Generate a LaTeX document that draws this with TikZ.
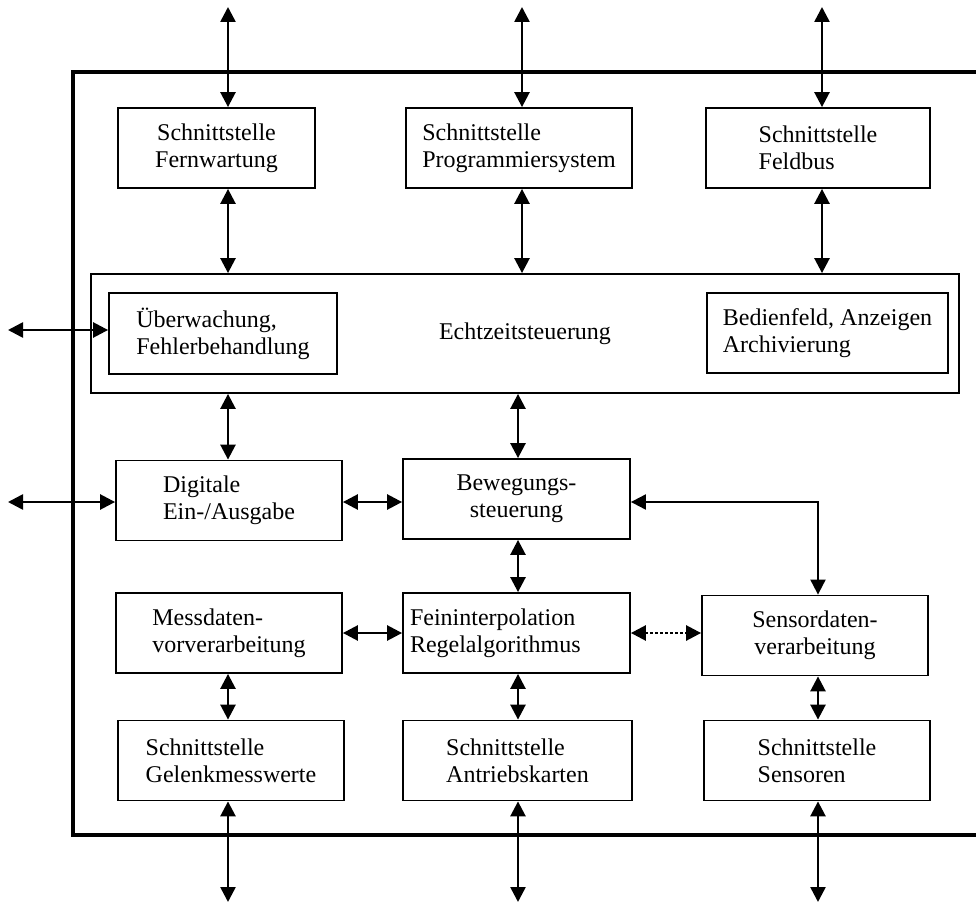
\documentclass[tikz,border=0pt]{standalone}
\usepackage{fontspec}
\setmainfont{Liberation Serif}
\usetikzlibrary{positioning, calc, arrows.meta}

\begin{document}
\begin{tikzpicture}[x = 0.5pt, y = -0.5pt]

\tikzset{
block/.style = {rectangle, draw, line width = 0.9pt, minimum height = 40pt,
	minimum width = 113pt, inner ysep = 0pt, align = left,
	font = \fontsize{12}{13.4}\selectfont},
frame/.style = {line width = 1.8pt},
link/.style = {<->, >={Triangle[length = 7.5pt, width = 7.5pt]}, line width = 1.3pt},
dotlink/.style = {dash pattern = on 1.5pt off 1pt},
	}

\useasboundingbox (0,0) rectangle (976,904);

%% Frame
\draw [frame] (976,72) -- (73,72) -- (73,835) -- (976,835);

%% Blocks
% Interfaces on top
\node at (216.5,148) [block, minimum width = 98.5pt, align = center] (fern) {Schnittstelle\\Fernwartung};
\node at (519,148) [block] (prog) {Schnittstelle\\Programmiersystem};
\node at (818,148) [block, minimum width = 112pt] (feld) {Schnittstelle\\Feldbus};

% Real-time control
\node at (525,333.5) [block, minimum width = 434pt, minimum height = 59.5pt] (echt) {Echtzeitsteuerung};
\node at (223,333.5) [block, minimum width = 114pt, minimum height = 40.5pt] (ueber) {Überwachung,\\Fehlerbehandlung};
\node at (827.5,333) [block, minimum width = 120.5pt] (bedien) {Bedienfeld, Anzeigen\\Archivierung};

% Middle
\node at (229,500.5) [block] (digi) {Digitale\\Ein-/Ausgabe};
\node at (516.5,499) [block, minimum width = 113.5pt, align = center] (beweg) {Bewegungs-\\steuerung};
\node at (229,633) [block] (mess) {Messdaten-\\vorverarbeitung};
\node at (516.5,633) [block, minimum width = 0pt, text width = 106.5pt, inner xsep = 3.5pt] (fein) {Feininterpolation\\Regelalgorithmus};
\node at (815,635.5) [block, align = center] (sensd) {Sensordaten-\\verarbeitung};

% Interfaces at the bottom
\node at (231,760.5) [block] (gelenk) {Schnittstelle\\Gelenkmesswerte};
\node at (517.5,760.5) [block, minimum width = 114.5pt] (antrieb) {Schnittstelle\\Antriebskarten};
\node at (817,760.5) [block] (sensor) {Schnittstelle\\Sensoren};

%% Free ends
\coordinate (in1) at (228,7);
\coordinate (in2) at (522,7);
\coordinate (in3) at (822,7);
\coordinate (out1) at (228,902);
\coordinate (out2) at (518,902);
\coordinate (out3) at (818,902);
\coordinate (le1) at (8,330);
\coordinate (le2) at (8,502);

%% Connections
\path [link] (in1) edge [] (in1 |- fern.north);
\path [link] (in2) edge [] (in2 |- prog.north);
\path [link] (in3) edge [] (in3 |- feld.north);
\path [link] (fern.south -| in1) edge [] (echt.north -| in1);
\path [link] (prog.south -| in2) edge [] (echt.north -| in2);
\path [link] (feld.south -| in3) edge [] (echt.north -| in3);
\path [link] (le1) edge [] (ueber.west |- le1);
\path [link] (le2) edge [] (digi.west |- le2);
\path [link] (echt.south -| in1) edge [] (digi.north -| in1);
\path [link] (echt.south -| out2) edge [] (beweg.north -| out2);
\path [link] (digi.east |- le2) edge [] (beweg.west |- le2);
\draw [link, line width = 1pt] (beweg.east |- le2) -| (sensd.north -| out3);
\path [link] (beweg.south -| out2) edge [] (fein.north -| out2);
\path [link] (mess.east) edge [] (fein.west |- mess.east);
\path [link, dotlink] (fein.east) edge [] (sensd.west |- fein.east);
\path [link] (mess.south -| in1) edge [] (gelenk.north -| in1);
\path [link] (fein.south -| out2) edge [] (antrieb.north -| out2);
\path [link] (sensd.south -| out3) edge [] (sensor.north -| out3);
\path [link] (gelenk.south -| out1) edge [] (out1);
\path [link] (antrieb.south -| out2) edge [] (out2);
\path [link] (sensor.south -| out3) edge [] (out3);

\end{tikzpicture}
\end{document}
